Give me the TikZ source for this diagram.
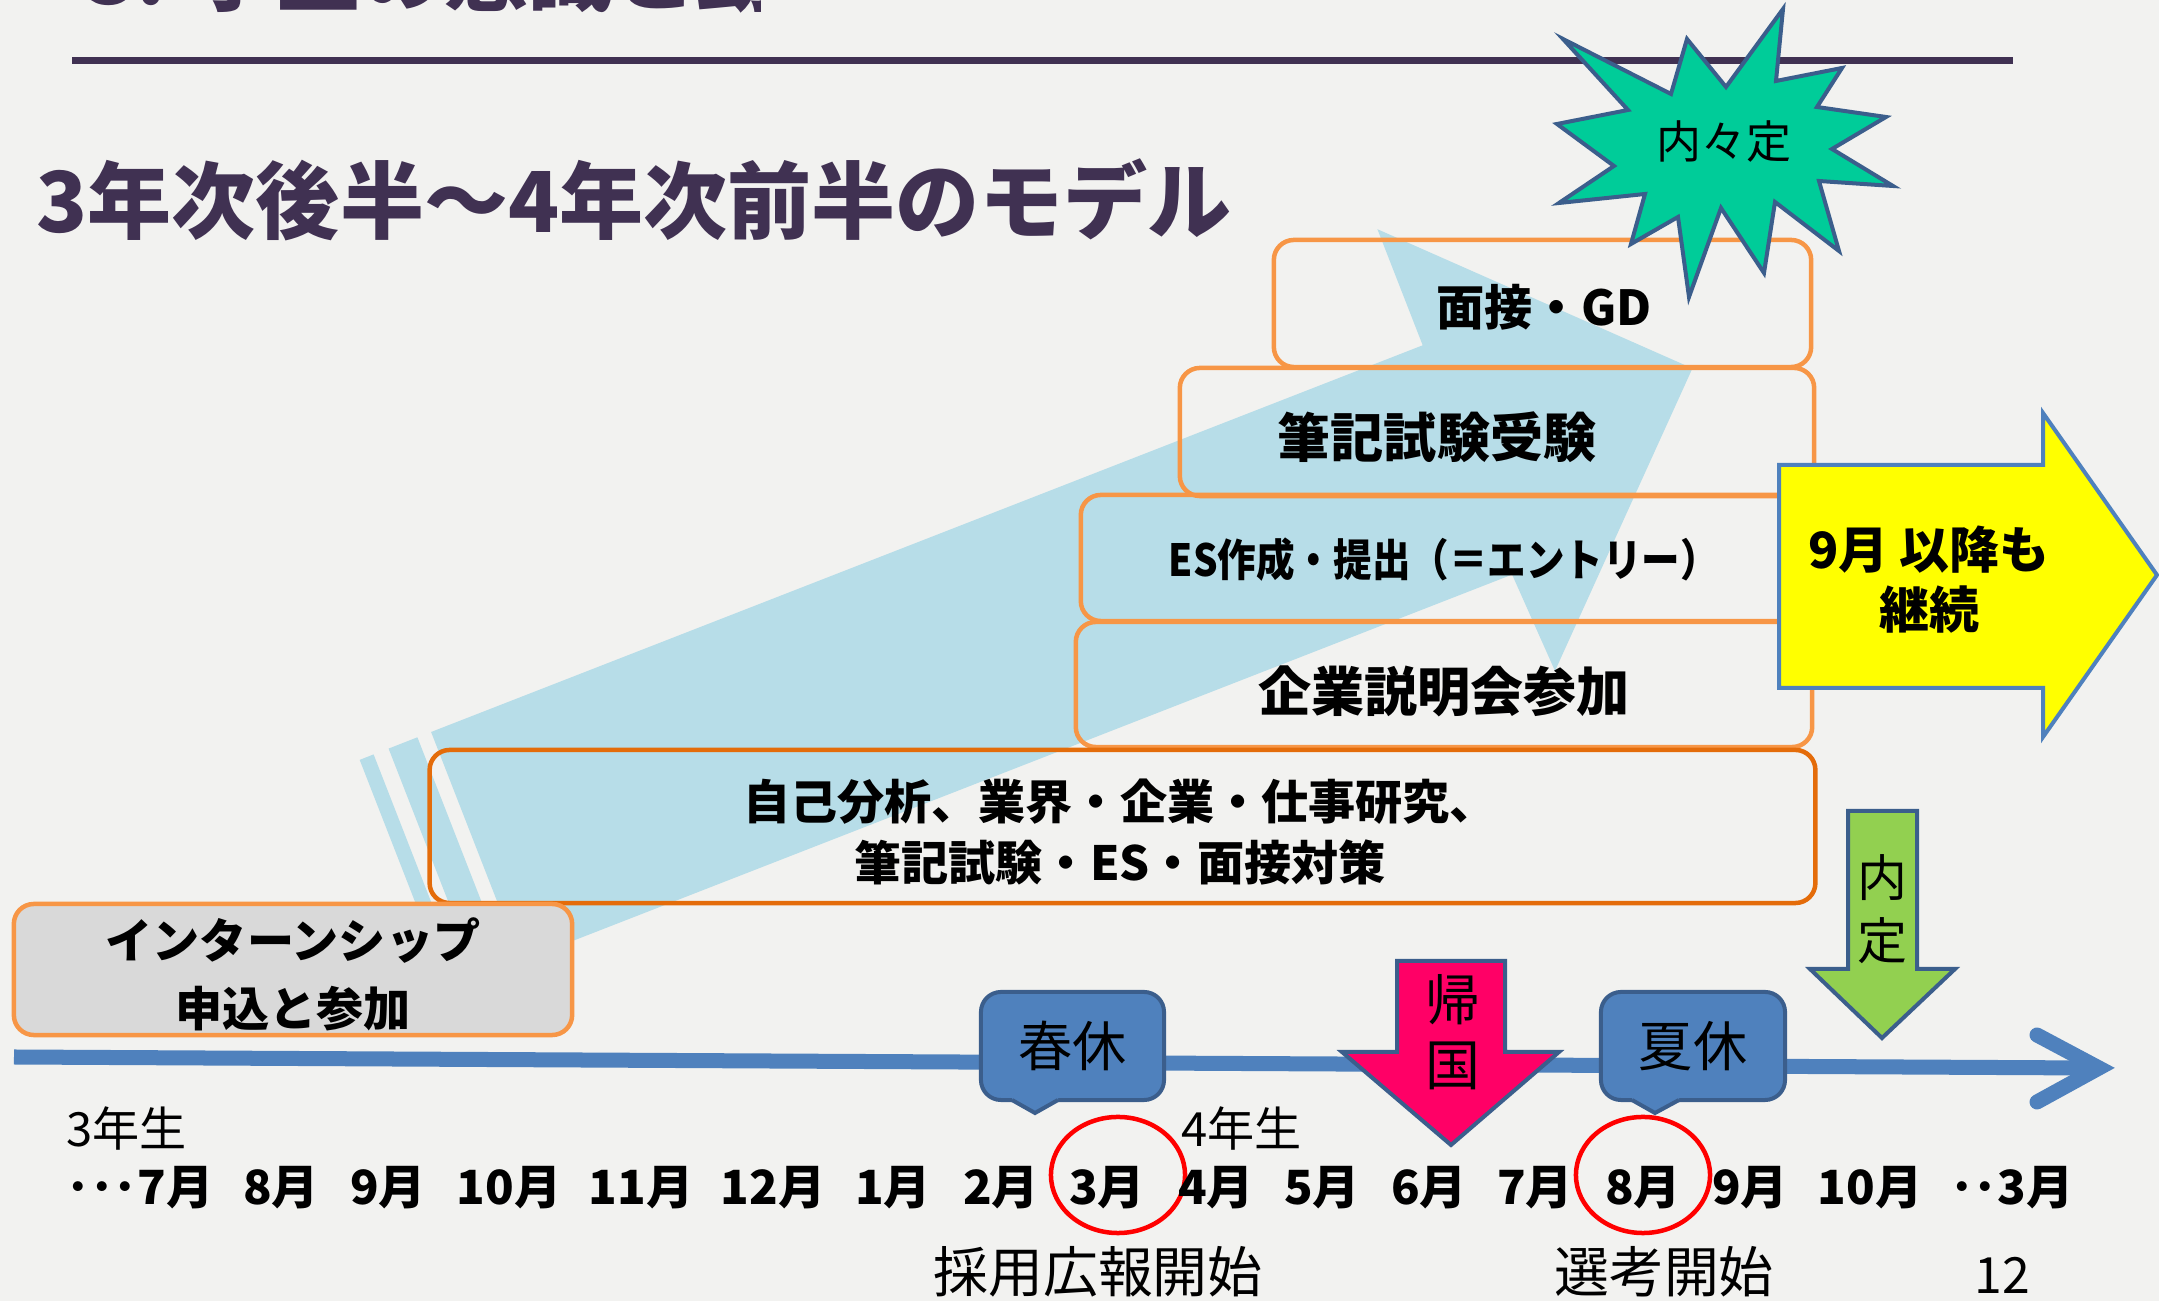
\documentclass[tikz,border=0pt]{standalone}
\usepackage{fontspec}
\usepackage{graphicx}
\newfontfamily\jp{Noto Sans CJK JP}
\usetikzlibrary{shapes.geometric}
\definecolor{bgc}{HTML}{F2F2F0}
\definecolor{titlec}{HTML}{403152}
\definecolor{lblue}{HTML}{B7DDE8}
\definecolor{orangeL}{HTML}{F79646}
\definecolor{orangeD}{HTML}{E46C0A}
\definecolor{grayf}{HTML}{D9D9D9}
\definecolor{teal}{HTML}{00CC99}
\definecolor{edgeb}{HTML}{3B5E8C}
\definecolor{axisb}{HTML}{4F81BD}
\definecolor{yel}{HTML}{FFFF00}
\definecolor{pinkc}{HTML}{FF0066}
\definecolor{greenc}{HTML}{92D050}
\newcommand{\fs}[2]{\fontsize{#1}{#2}\selectfont}
\tikzset{
  obox/.style={draw=orangeL, line width=0.045cm, rounded corners=0.2cm, inner sep=0pt},
  btext/.style={inner sep=0pt, align=center, font={\jp\bfseries\fs{13.7pt}{17pt}}},
  callout/.style={fill=axisb, draw=edgeb, line width=0.04cm, rounded corners=0.2cm, inner sep=0pt, font={\jp\fs{15.4pt}{18pt}}},
  shapeedge/.style={draw=edgeb, line width=0.04cm},
  month/.style={inner sep=0pt, font={\jp\bfseries\fs{13.4pt}{16pt}}},
  plain/.style={inner sep=0pt, font={\jp\fs{13.4pt}{16pt}}},
  redring/.style={draw=red, line width=0.045cm, ellipse, inner sep=0pt, minimum width=1.34cm, minimum height=1.16cm},
}
\begin{document}
\begin{tikzpicture}[x=0.01cm, y=-0.01cm]
\useasboundingbox (0,0) rectangle (2159,1301);
\fill[bgc] (0,0) rectangle (2159,1301);

% clipped heading at top edge
\begin{scope}
\clip (0,0) rectangle (760,30);
\node[anchor=base west, inner sep=0pt, text=titlec, font={\jp\bfseries\fs{23.9pt}{28pt}}] (toptitle) at (85,5) {3. 学生の意識と動向};
\end{scope}

% rule
\coordinate (ruleA) at (72,60.5);
\coordinate (ruleB) at (2013,60.5);
\draw[titlec, line width=0.07cm] (ruleA) -- (ruleB);

% title
\node[anchor=west, inner sep=0pt, text=titlec, font={\jp\bfseries\fs{23.9pt}{28pt}}] (title) at (36,200) {3年次後半～4年次前半のモデル};

% big light-blue striped arrow
\fill[lblue] (431.1,732.0) -- (1422.7,345.3) -- (1377.4,229.2) -- (1692.4,368.4) -- (1555.0,670.9) -- (1512.1,574.6) -- (520.5,961.3) -- cycle;
\fill[lblue] (359.7,759.9) -- (373.6,754.4) -- (463.0,983.7) -- (449.1,989.2) -- cycle;
\fill[lblue] (388.6,748.6) -- (417.4,737.3) -- (506.8,966.6) -- (478.0,977.9) -- cycle;

% boxes
\node[obox, minimum width=5.37cm, minimum height=1.27cm] (b1) at (1542.5,303.5) {};
\node[obox, minimum width=6.34cm, minimum height=1.28cm] (b2) at (1497,432) {};
\node[obox, minimum width=7.30cm, minimum height=1.26cm] (b3) at (1446,558) {};
\node[obox, minimum width=7.36cm, minimum height=1.25cm] (b4) at (1444,684.5) {};
\node[obox, draw=orangeD, minimum width=13.85cm, minimum height=1.53cm] (b5) at (1122.5,826.5) {};
\node[obox, fill=grayf, minimum width=5.58cm, minimum height=1.31cm] (b6) at (293,969.5) {};

\node[btext] (t1) at (1544,307) {面接・GD};
\node[btext, font={\jp\bfseries\fs{15.1pt}{18pt}}] (t2) at (1437,437) {筆記試験受験};
\node[btext, font={\jp\bfseries\fs{12.6pt}{15pt}}] (t3) at (1444,560) {\scalebox{0.87}[1]{ES作成・提出（＝エントリー）}};
\node[btext, font={\jp\bfseries\fs{15.1pt}{18pt}}] (t4) at (1444,691) {企業説明会参加};
\node[btext, font={\jp\bfseries\fs{13.4pt}{17.4pt}}] (t5) at (1120,832) {自己分析、業界・企業・仕事研究、\\筆記試験・ES・面接対策};
\node[btext, font={\jp\bfseries\fs{13.4pt}{19.3pt}}] (t6) at (293,974) {インターンシップ\\申込と参加};

% starburst
\filldraw[fill=teal, shapeedge] (1563,39) -- (1671,94) -- (1687,39) -- (1726,87) -- (1783,9) -- (1776,81) -- (1842,68) -- (1817,107) -- (1886,117) -- (1832,149) -- (1893,186) -- (1819,181) -- (1839,251) -- (1775,202) -- (1764,273) -- (1721,208) -- (1689,297) -- (1678,217) -- (1631,244) -- (1645,194) -- (1559,203) -- (1614,166) -- (1557,124) -- (1628,110) -- cycle;
\node[inner sep=0pt, font={\jp\fs{12.8pt}{15pt}}] (naina) at (1724,142) {内々定};

% yellow arrow
\filldraw[fill=yel, draw=axisb, line width=0.04cm] (1779,465) -- (2043,465) -- (2043,413) -- (2157,575) -- (2043,737) -- (2043,688) -- (1779,688) -- cycle;
\node[btext, font={\jp\bfseries\fs{14.2pt}{17pt}}] (cont) at (1929,580) {9月 以降も\\継続};

% timeline
\coordinate (tlA) at (14,1057);
\coordinate (tlB) at (2090,1068);
\coordinate (chevT) at (2037,1035);
\coordinate (chevM) at (2099,1068);
\coordinate (chevB) at (2037,1102);
\draw[axisb, line width=0.15cm] (tlA) -- (tlB);
\draw[axisb, line width=0.15cm, line cap=round, line join=miter] (chevT) -- (chevM) -- (chevB);

% callouts
\node[callout, minimum width=1.83cm, minimum height=1.08cm] (haru) at (1072.5,1046) {春休};
\fill[axisb] (1012,1096) -- (1058,1096) -- (1058,1100) -- (1035,1113) -- (1012,1100) -- cycle;
\draw[shapeedge] (1012,1100) -- (1035,1113) -- (1058,1100);
\node[callout, minimum width=1.84cm, minimum height=1.08cm] (natsu) at (1693,1046) {夏休};
\fill[axisb] (1632,1096) -- (1679,1096) -- (1679,1100) -- (1655,1113) -- (1632,1100) -- cycle;
\draw[shapeedge] (1632,1100) -- (1655,1113) -- (1679,1100);

% down arrows
\filldraw[fill=pinkc, shapeedge] (1397,961) -- (1505,961) -- (1505,1052) -- (1559,1052) -- (1451,1145) -- (1342,1052) -- (1397,1052) -- cycle;
\node[inner sep=0pt, align=center, font={\jp\fs{15.6pt}{18.5pt}}] (kikoku) at (1453,1032) {帰\\国};
\filldraw[fill=greenc, shapeedge] (1848,811) -- (1917,811) -- (1917,969) -- (1955,969) -- (1882,1038) -- (1810,969) -- (1848,969) -- cycle;
\node[inner sep=0pt, align=center, font={\jp\fs{14.2pt}{18pt}}] (naitei) at (1882,909) {内\\定};

% red rings
\node[redring] (ring3) at (1118,1175) {};
\node[redring] (ring8) at (1643,1175) {};

% year labels
\node[plain, anchor=west] (y3) at (66,1129) {3年生};
\node[plain, anchor=west] (y4) at (1181,1129) {4年生};

% months
\node[month, anchor=west] (m7) at (66,1188) {･･･7月};
\node[month] (m8) at (281,1188) {8月};
\node[month] (m9) at (388,1188) {9月};
\node[month] (m10) at (509,1188) {10月};
\node[month] (m11) at (641,1188) {11月};
\node[month] (m12) at (773,1188) {12月};
\node[month] (m1) at (893,1188) {1月};
\node[month] (m2) at (1001,1188) {2月};
\node[month] (m3) at (1107,1188) {3月};
\node[month] (m4) at (1216,1188) {4月};
\node[month] (m5) at (1322,1188) {5月};
\node[month] (m6) at (1429,1188) {6月};
\node[month] (m7b) at (1535,1188) {7月};
\node[month] (m8b) at (1643,1188) {8月};
\node[month] (m9b) at (1750,1188) {9月};
\node[month] (m10b) at (1870,1188) {10月};
\node[month, anchor=east] (m3b) at (2074,1188) {･･3月};

% bottom labels
\node[inner sep=0pt, font={\jp\fs{15.6pt}{18pt}}] (koho) at (1098,1272) {採用広報開始};
\node[inner sep=0pt, font={\jp\fs{15.6pt}{18pt}}] (senko) at (1664,1272) {選考開始};
\node[inner sep=0pt, font={\jp\fs{14.2pt}{17pt}}] (pageno) at (2002,1275) {12};
\end{tikzpicture}
\end{document}
